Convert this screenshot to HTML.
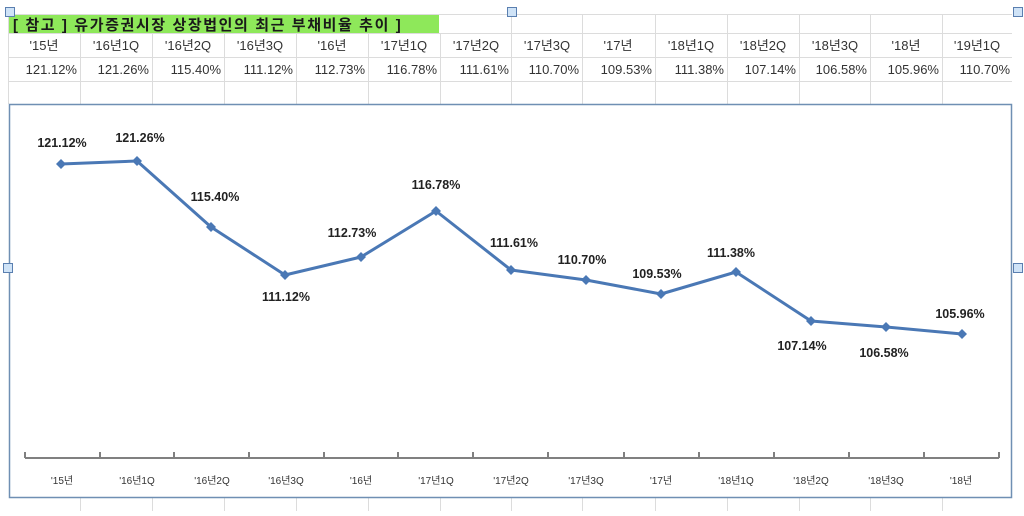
<!DOCTYPE html>
<html><head><meta charset="utf-8"><style>
body{margin:0;background:#fff;width:1024px;height:511px;overflow:hidden}
svg text{font-family:"Liberation Sans","Noto Sans CJK KR",sans-serif}
</style></head><body>
<svg width="1024" height="511" xmlns="http://www.w3.org/2000/svg">
<rect width="1024" height="511" fill="#fff"/>
<g stroke="#dcdcdc" stroke-width="1">
<line x1="8" y1="14.5" x2="1012" y2="14.5"/>
<line x1="8" y1="33.5" x2="1012" y2="33.5"/>
<line x1="8" y1="57.5" x2="1012" y2="57.5"/>
<line x1="8" y1="81.5" x2="1012" y2="81.5"/>
<line x1="80.5" y1="33" x2="80.5" y2="104"/><line x1="152.5" y1="33" x2="152.5" y2="104"/>
<line x1="224.5" y1="33" x2="224.5" y2="104"/><line x1="296.5" y1="33" x2="296.5" y2="104"/>
<line x1="368.5" y1="33" x2="368.5" y2="104"/><line x1="440.5" y1="33" x2="440.5" y2="104"/>
<line x1="511.5" y1="14" x2="511.5" y2="104"/><line x1="582.5" y1="14" x2="582.5" y2="104"/>
<line x1="655.5" y1="14" x2="655.5" y2="104"/><line x1="727.5" y1="14" x2="727.5" y2="104"/>
<line x1="799.5" y1="14" x2="799.5" y2="104"/><line x1="870.5" y1="14" x2="870.5" y2="104"/>
<line x1="942.5" y1="14" x2="942.5" y2="104"/><line x1="8.5" y1="14" x2="8.5" y2="104"/>
<line x1="80.5" y1="498" x2="80.5" y2="511"/><line x1="152.5" y1="498" x2="152.5" y2="511"/>
<line x1="224.5" y1="498" x2="224.5" y2="511"/><line x1="296.5" y1="498" x2="296.5" y2="511"/>
<line x1="368.5" y1="498" x2="368.5" y2="511"/><line x1="440.5" y1="498" x2="440.5" y2="511"/>
<line x1="511.5" y1="498" x2="511.5" y2="511"/><line x1="582.5" y1="498" x2="582.5" y2="511"/>
<line x1="655.5" y1="498" x2="655.5" y2="511"/><line x1="727.5" y1="498" x2="727.5" y2="511"/>
<line x1="799.5" y1="498" x2="799.5" y2="511"/><line x1="870.5" y1="498" x2="870.5" y2="511"/>
<line x1="942.5" y1="498" x2="942.5" y2="511"/>
</g>
<rect x="9" y="15" width="430" height="18" fill="#8ee85a"/>
<text x="13" y="30" font-size="15" font-weight="bold" letter-spacing="1.6" fill="#1a1a1a">[ 참고 ] 유가증권시장 상장법인의 최근 부채비율 추이 ]</text>
<g font-size="13" fill="#333" text-anchor="middle">
<text x="44" y="50">'15년</text><text x="116" y="50">'16년1Q</text><text x="188" y="50">'16년2Q</text><text x="260" y="50">'16년3Q</text><text x="332" y="50">'16년</text><text x="404" y="50">'17년1Q</text><text x="476" y="50">'17년2Q</text><text x="547" y="50">'17년3Q</text><text x="618" y="50">'17년</text><text x="691" y="50">'18년1Q</text><text x="763" y="50">'18년2Q</text><text x="835" y="50">'18년3Q</text><text x="906" y="50">'18년</text><text x="977" y="50">'19년1Q</text>
</g>
<g font-size="13" fill="#333" text-anchor="end">
<text x="77" y="74">121.12%</text><text x="149" y="74">121.26%</text><text x="221" y="74">115.40%</text><text x="293" y="74">111.12%</text><text x="365" y="74">112.73%</text><text x="437" y="74">116.78%</text><text x="509" y="74">111.61%</text><text x="579" y="74">110.70%</text><text x="652" y="74">109.53%</text><text x="724" y="74">111.38%</text><text x="796" y="74">107.14%</text><text x="867" y="74">106.58%</text><text x="939" y="74">105.96%</text><text x="1010" y="74">110.70%</text>
</g>
<rect x="9.5" y="104.5" width="1002" height="393" fill="#fff" stroke="#6f8fb3" stroke-width="1.5"/>
<g fill="#cfe3f7" stroke="#5a7fb0" stroke-width="1">
<rect x="5.5" y="7.5" width="9" height="9"/><rect x="507.5" y="7.5" width="9" height="9"/><rect x="1013.5" y="7.5" width="9" height="9"/>
<rect x="3.5" y="263.5" width="9" height="9"/><rect x="1013.5" y="263.5" width="9" height="9"/>
</g>
<g stroke="#808080" stroke-width="2">
<line x1="25" y1="458" x2="999" y2="458"/>
<line x1="25" y1="452" x2="25" y2="458"/><line x1="100" y1="452" x2="100" y2="458"/><line x1="174" y1="452" x2="174" y2="458"/><line x1="249" y1="452" x2="249" y2="458"/><line x1="324" y1="452" x2="324" y2="458"/><line x1="398" y1="452" x2="398" y2="458"/><line x1="473" y1="452" x2="473" y2="458"/><line x1="548" y1="452" x2="548" y2="458"/><line x1="624" y1="452" x2="624" y2="458"/><line x1="699" y1="452" x2="699" y2="458"/><line x1="774" y1="452" x2="774" y2="458"/><line x1="849" y1="452" x2="849" y2="458"/><line x1="924" y1="452" x2="924" y2="458"/><line x1="999" y1="452" x2="999" y2="458"/>
</g>
<g font-size="10" fill="#333" text-anchor="middle">
<text x="62" y="484">'15년</text><text x="137" y="484">'16년1Q</text><text x="212" y="484">'16년2Q</text><text x="286" y="484">'16년3Q</text><text x="361" y="484">'16년</text><text x="436" y="484">'17년1Q</text><text x="511" y="484">'17년2Q</text><text x="586" y="484">'17년3Q</text><text x="661" y="484">'17년</text><text x="736" y="484">'18년1Q</text><text x="811" y="484">'18년2Q</text><text x="886" y="484">'18년3Q</text><text x="961" y="484">'18년</text>
</g>
<polyline fill="none" stroke="#4a78b5" stroke-width="3" stroke-linejoin="round" points="61,164 137,161 211,227 285,275 361,257 436,211 511,270 586,280 661,294 736,272 811,321 886,327 962,334"/>
<g fill="#4a78b5">
<path d="M61,159 l5,5 -5,5 -5,-5z"/><path d="M137,156 l5,5 -5,5 -5,-5z"/><path d="M211,222 l5,5 -5,5 -5,-5z"/><path d="M285,270 l5,5 -5,5 -5,-5z"/><path d="M361,252 l5,5 -5,5 -5,-5z"/><path d="M436,206 l5,5 -5,5 -5,-5z"/><path d="M511,265 l5,5 -5,5 -5,-5z"/><path d="M586,275 l5,5 -5,5 -5,-5z"/><path d="M661,289 l5,5 -5,5 -5,-5z"/><path d="M736,267 l5,5 -5,5 -5,-5z"/><path d="M811,316 l5,5 -5,5 -5,-5z"/><path d="M886,322 l5,5 -5,5 -5,-5z"/><path d="M962,329 l5,5 -5,5 -5,-5z"/>
</g>
<g font-size="12.5" font-weight="bold" fill="#222" text-anchor="middle">
<text x="62" y="147">121.12%</text><text x="140" y="142">121.26%</text><text x="215" y="201">115.40%</text><text x="286" y="301">111.12%</text><text x="352" y="237">112.73%</text><text x="436" y="189">116.78%</text><text x="514" y="247">111.61%</text><text x="582" y="264">110.70%</text><text x="657" y="278">109.53%</text><text x="731" y="257">111.38%</text><text x="802" y="350">107.14%</text><text x="884" y="357">106.58%</text><text x="960" y="318">105.96%</text>
</g>
</svg>
</body></html>
